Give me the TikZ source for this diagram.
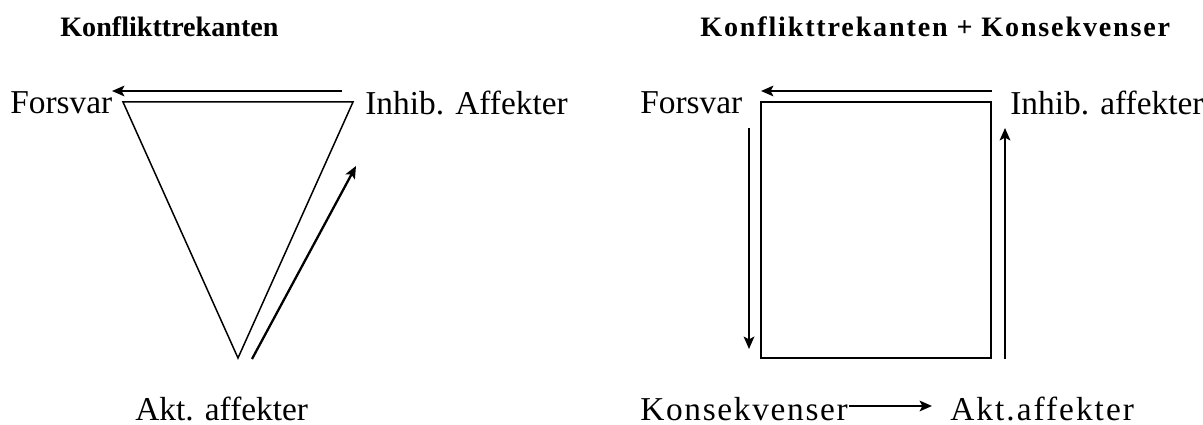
\documentclass[tikz,border=0pt]{standalone}
\usepackage{fontspec}
\setmainfont{Liberation Serif}
\usetikzlibrary{arrows.meta}
\begin{document}
\begin{tikzpicture}[x=0.02cm,y=-0.02cm,
  lbl/.style={anchor=west,inner sep=0pt,font=\fontsize{19}{22}\selectfont},
  blbl/.style={anchor=base west,inner sep=0pt,text depth=0pt,font=\fontsize{19}{22}\selectfont},
  ttl/.style={anchor=base west,inner sep=0pt,font=\fontsize{16}{19}\selectfont\bfseries},
  shape line/.style={line width=0.85pt,line join=miter},
  arr/.style={line width=1.3pt,-{Stealth[length=7pt,width=6pt,inset=1.5pt]}}]
\useasboundingbox (0,0) rectangle (1203,425);
% titles
\node[ttl] (t1) at (60,37) {Konflikttrekanten};
\node[ttl,font=\fontsize{16}{19}\selectfont\bfseries\addfontfeature{LetterSpace=6.5}] (t2) at (700,37) {Konflikttrekanten + Konsekvenser};
% left: triangle
\coordinate (tl) at (123,102);
\coordinate (tr) at (353,102);
\coordinate (tb) at (238,358);
\draw[shape line] (tl) -- (tr) -- (tb) -- cycle;
\coordinate (a1s) at (342,91);
\coordinate (a1e) at (112,91);
\draw[arr] (a1s) -- (a1e);
\coordinate (a2s) at (252,359);
\coordinate (a2e) at (356,166);
\draw[arr] (a2s) -- (a2e);
\node[lbl] (forsvar1) at (10,103) {Forsvar};
\node[lbl] (inhib1) at (365,103) {Inhib. Affekter};
\node[blbl] (akt1) at (135,420) {Akt. affekter};
% right: square
\coordinate (sq1) at (761,102);
\coordinate (sq2) at (991,358);
\draw[shape line] (sq1) rectangle (sq2);
\coordinate (b1s) at (992,91);
\coordinate (b1e) at (761,91);
\draw[arr] (b1s) -- (b1e);
\coordinate (b2s) at (749,128);
\coordinate (b2e) at (749,349);
\draw[arr] (b2s) -- (b2e);
\coordinate (b3s) at (1005,359);
\coordinate (b3e) at (1005,128);
\draw[arr] (b3s) -- (b3e);
\node[lbl] (forsvar2) at (640,103) {Forsvar};
\node[lbl] (inhib2) at (1010,103) {Inhib. affekter};
\node[blbl,font=\fontsize{19}{22}\selectfont\addfontfeature{LetterSpace=5}] (kons) at (640,420) {Konsekvenser};
\node[blbl,font=\fontsize{19}{22}\selectfont\addfontfeature{LetterSpace=6}] (akt2) at (950,420) {Akt.affekter};
\coordinate (c1) at (849,406);
\coordinate (c2) at (932,406);
\draw[arr] (c1) -- (c2);
\end{tikzpicture}
\end{document}
